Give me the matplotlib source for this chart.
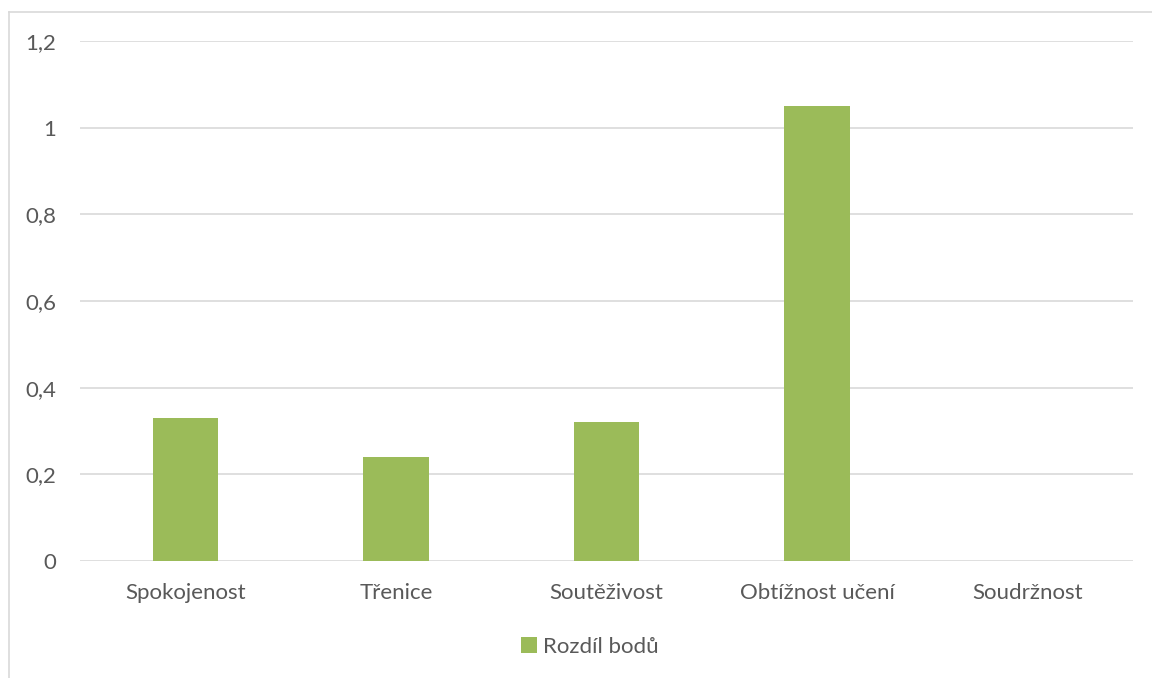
import matplotlib.pyplot as plt
from matplotlib.lines import Line2D
from matplotlib.ticker import FuncFormatter

plt.rcParams['font.family'] = ['Lato', 'DejaVu Sans']

categories = ['Spokojenost', 'Třenice', 'Soutěživost', 'Obtížnost učení', 'Soudržnost']
values = [0.33, 0.24, 0.32, 1.05, 0.0]
series_name = 'Rozdíl bodů'
yticks = [0, 0.2, 0.4, 0.6, 0.8, 1.0, 1.2]

green = '#9bbb59'
text_col = '#595959'
grid_col = '#d9d9d9'

fig = plt.figure(figsize=(11.52, 6.78), dpi=100)
ax = fig.add_axes([80 / 1152, 1 - 561 / 678, (1133 - 80) / 1152, (561 - 41) / 678])

x = range(len(categories))
ax.bar(x, values, width=0.31, color=green, label=series_name, zorder=3)

ax.set_xlim(-0.5, len(categories) - 0.5)
ax.set_ylim(0, 1.2)
ax.set_yticks(yticks)
ax.yaxis.set_major_formatter(FuncFormatter(lambda v, p: ('%g' % round(v, 1)).replace('.', ',')))
ax.set_xticks(list(x))
ax.set_xticklabels(categories)
ax.grid(axis='y', color=grid_col, linewidth=1.2, zorder=0)
for s in ax.spines.values():
    s.set_visible(False)
ax.tick_params(length=0, labelsize=16, colors=text_col)
ax.tick_params(axis='x', pad=16)
ax.tick_params(axis='y', pad=17)

leg = fig.legend(loc='center', bbox_to_anchor=(590 / 1152, 1 - 647 / 678), frameon=False,
                 fontsize=16, handlelength=0.7, handleheight=0.7, handletextpad=0.3)
for t in leg.get_texts():
    t.set_color(text_col)

# outer chart frame (left and top edges)
fig.add_artist(Line2D([9 / 1152, 9 / 1152], [0, 1 - 12 / 678], color=grid_col, linewidth=1.2))
fig.add_artist(Line2D([9 / 1152, 1], [1 - 12 / 678, 1 - 12 / 678], color=grid_col, linewidth=1.2))

fig.savefig('out.png', dpi=100)
